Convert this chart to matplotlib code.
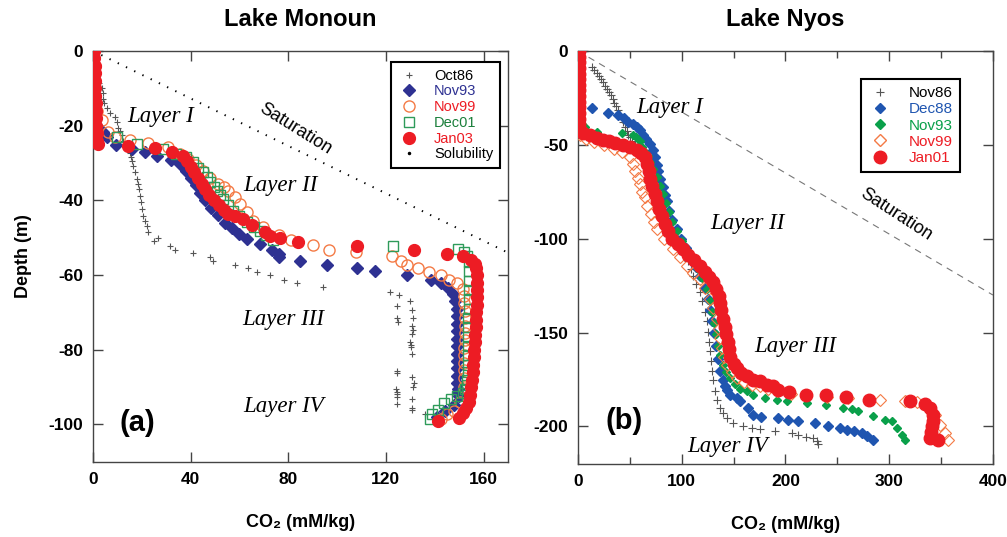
import numpy as np
import matplotlib
matplotlib.use("Agg")
import matplotlib.pyplot as plt
from matplotlib.lines import Line2D

plt.rcParams['font.family'] = ['Liberation Sans', 'DejaVu Sans']
plt.rcParams['axes.unicode_minus'] = False
NARROW = ['Liberation Sans Narrow', 'Liberation Sans', 'DejaVu Sans']

# ---------------- Lake Monoun (a) ----------------
oct86_co2 = [0.5, 0.8, 1.5, 2.5, 3.7, 3.9, 4.1, 4.5, 5.7, 7.0, 9.0, 9.8, 10.3, 11.2, 11.9, 12.3, 13.0, 14.0,
             15.2, 15.5, 16.0, 16.4, 17.0, 18.0, 18.5, 19.0, 19.3, 19.8, 20.2, 20.5, 21.2, 22.0, 22.6, 24.8,
             26.7, 31.6, 33.6, 41.0, 48.0, 49.2, 58.3, 63.6, 67.3, 72.6, 78.4, 83.7, 94.4,
             121.8, 125.5, 130.0, 124.5, 130.8, 131.0, 124.7, 124.9, 130.5, 131.0, 130.5, 130.0, 130.2, 130.3,
             130.5, 124.5, 124.6, 130.7, 131.4, 131.0, 124.3, 124.5, 124.4, 124.5, 130.5, 124.6, 130.6, 130.8, 136.0]
oct86_depth = [0, -3, -6, -8.5, -9.8, -11.2, -12.8, -14, -15.2, -16.5, -17.8, -19.1, -20.5, -21.5, -22.5, -24.2, -25, -25.8,
               -27.4, -28.5, -29.5, -30.9, -32.5, -34.3, -35.5, -37, -38.8, -40.5, -42.3, -44.1, -45.5, -46.8, -48.4, -50.8,
               -50.2, -52.1, -53.3, -54.2, -55.1, -56.3, -57.2, -58, -59.1, -60.1, -61.4, -62.2, -63.3,
               -64.4, -65.4, -67, -68.4, -69.3, -71.5, -71.6, -72.6, -73.5, -74.8, -75.8, -77.9, -78.7, -79.3,
               -81.1, -85.6, -86.2, -87.2, -88.8, -89.9, -90.4, -91.2, -91.8, -92.6, -93.3, -94.4, -95.5, -96.2, -97.3]

nov93_co2 = [0.5, 0.5, 0.8, 1.0, 1.5, 4.0, 5.7, 9.6, 16.0, 21.3, 26.2, 31.8, 35.7, 38.0, 40.0, 42.0, 44.0, 46.0,
             48.5, 51.0, 54.0, 57.0, 60.0, 63.0, 68.5, 73.4, 76.3, 76.3, 85.0, 96.0, 108.0, 115.7, 128.8, 138.5,
             142.6, 145.5, 147.5, 148.5, 149.0, 149.2, 149.3, 149.3, 149.3, 149.3, 149.3, 149.3, 149.3, 149.3,
             149.3, 149.4, 149.5, 150.0, 147.7, 144.4, 141.0]
nov93_depth = [0, -5, -10, -15, -20, -21.8, -23, -25.2, -26.3, -27.1, -28.2, -29.1, -30.2, -32, -34, -36, -38, -40,
               -42, -44, -46, -47.5, -49, -50.3, -51.6, -53.2, -54.3, -55.2, -56.2, -57.2, -58, -59, -60.1, -61.4,
               -62.2, -63.5, -65, -67, -69, -71, -73, -75, -77, -79, -81, -83, -85, -87,
               -89, -90.5, -91.5, -92.5, -94.7, -96.3, -98]

nov99a_co2 = [0.5, 0.6, 0.8, 1.0, 1.5, 3.7, 6.0, 9.0, 15.0, 22.6, 30.8, 35.7, 39.0, 42.0, 45.0, 48.0, 51.3, 53.5,
              55.4, 58.2, 60.3, 63.2, 65.6, 69.7, 76.0, 81.0, 90.2, 96.8, 107.8, 122.7, 126.0, 128.8, 133.0, 137.6,
              142.4, 145.8, 149.3, 151.4, 152.0, 152.2, 152.3, 152.3, 152.3, 152.3, 152.3, 152.2, 152.2, 152.1,
              152.0, 152.0, 151.8, 150.5, 147.7, 145.0, 142.4]
nov99a_depth = [0, -4, -8, -12, -16, -18.4, -21.8, -23, -23.9, -24.7, -25.8, -27.7, -29, -30.5, -32, -34, -35.6, -36.5,
                -37.5, -39, -41, -43, -45.5, -47, -49.2, -50.5, -52, -53.2, -53.9, -55, -56.2, -57.2, -58.1, -59.1,
                -60.1, -61.2, -62.1, -63.6, -65.5, -67.5, -69.5, -71.5, -73.5, -75.5, -77.5, -79.5, -81.5, -83.5,
                -85.5, -87.5, -90, -94, -96.3, -97.3, -98.6]

dec01_co2 = [0.0, 0.0, 0.2, 0.3, 0.4, 0.5, 0.5, 9.8, 18.0, 28.7, 34.0, 38.0, 41.0, 43.0, 45.0, 46.5, 48.0, 49.5,
             50.9, 52.0, 53.3, 55.3, 57.4, 60.0, 63.0, 65.8, 68.5, 71.0, 73.8, 123.0, 149.7, 151.8, 153.4, 154.0,
             154.0, 154.0, 154.0, 153.9, 153.9, 153.8, 153.8, 153.7, 153.7, 153.6, 153.5, 153.5, 153.4, 153.3,
             152.6, 151.4, 149.3, 146.5, 143.6, 141.5, 139.0, 138.0]
dec01_depth = [0, -2, -5, -10, -15, -20, -23, -23, -24.8, -26.3, -27.5, -28.5, -29.8, -31.2, -32.5, -33.8, -35.1, -36.3,
               -37.5, -38.5, -39.6, -41.2, -42.8, -44.3, -45.7, -47, -48.1, -49.3, -50.5, -52.2, -53.1, -53.8, -54.8, -56.5,
               -59, -61.5, -64, -66.5, -69, -71.5, -74, -76.5, -79, -81.5, -84, -86, -88, -89.5,
               -90.5, -91.5, -92.3, -93.3, -94.2, -96, -97.3, -98.6]

jan03_co2 = [0.5, 0.5, 0.6, 0.7, 0.8, 0.9, 1.0, 1.1, 1.2, 1.3, 1.4, 1.5, 1.6, 2.0, 14.4, 25.4, 32.4, 37.0,
             38.6, 40.0, 41.5, 43.0, 44.5, 46.0, 47.5, 49.5, 51.5, 53.5, 55.5, 58.0, 61.5, 65.0, 70.6, 72.6, 76.7,
             84.0, 108.0, 131.4, 145.0, 151.4, 155.0, 156.5, 157.0, 157.2, 157.3, 157.3, 157.3, 157.2, 157.0,
             157.0, 156.8, 156.6, 156.4, 156.2, 156.0, 155.8, 155.6, 155.3, 155.0, 154.6, 154.0, 152.8, 151.5,
             150.0, 141.5]
jan03_depth = [0, -2, -4, -6, -8, -10, -12, -14, -16, -18, -20, -22, -24, -25, -25.3, -26.1, -27.1, -28.1,
               -29.5, -31, -32.5, -34, -35.5, -37, -38.5, -40, -41.3, -42.5, -43.6, -44.2, -45, -46.5, -48.4, -49.4, -50,
               -51.2, -52.2, -53.2, -54.3, -55, -56, -57, -58, -60, -62, -64, -66, -68, -70,
               -72, -74, -76, -78, -80, -82, -84, -86, -88, -90, -92, -94, -95.5, -97,
               -98.3, -99.2]

sat_a_co2 = [0, 170]
sat_a_depth = [0, -54]

# ---------------- Lake Nyos (b) ----------------
nov86_co2 = [13.5, 15.5, 18.3, 20, 22, 24, 26, 28, 30, 32, 33.5, 35, 36.5, 38.5, 40.5, 42, 43.5, 45.3, 47, 48.5,
             50, 52, 54.5, 57, 60, 63, 66, 69, 72, 75, 78, 81, 84, 87, 90, 93, 96, 99, 102, 106, 109, 111, 114,
             117.6, 120, 122.4, 124, 125.3, 126.3, 127.2, 128, 129, 130, 132, 134, 136.9, 140, 143.6, 149.4, 159,
             167.7, 175.4, 190, 206, 212, 219.8, 226.5, 230.4, 231.3]
nov86_depth = [-8.5, -10, -11.5, -13.5, -15, -16.5, -18.5, -20, -21.7, -23.5, -25.5, -27.5, -29.5, -31.5, -34, -36,
               -38, -40.3, -42.5, -44.5, -46, -48, -49.7, -51.4, -54, -57, -60.5, -64, -68, -72, -76, -80, -84, -88,
               -92, -96, -100, -104, -108, -112, -116, -120, -124, -128.3, -133, -139, -144, -149.5, -155, -160,
               -165, -170.7, -175, -181.3, -186, -190.3, -193, -195.6, -198.3, -199.9, -201, -201.4, -202.5,
               -203.6, -204.7, -205.7, -206.3, -207.8, -209.4]

dec88_co2 = [0.5, 0.5, 0.5, 0.5, 0.5, 0.5, 13.5, 29, 38.6, 44, 48.2, 53, 57, 60, 62.7, 66, 69.4, 72, 74.2, 75.8,
             77, 79.5, 82, 84, 85.8, 88, 91, 95, 99, 104, 109, 114, 118, 122, 125, 127.5, 129.5, 131, 133, 134.5,
             137, 139.8, 141.5, 143.6, 146.5, 153, 156, 163.9, 168.7, 176.4, 192.8, 202.4, 212, 228.4, 241,
             252.5, 259.3, 266, 273.7, 278.6, 284.3]
dec88_depth = [0, -5, -10, -15, -20, -25, -30.2, -33, -34, -35.5, -37.6, -39, -40.3, -42.3, -44.5, -47, -49.8,
               -53, -56.7, -60.5, -64, -68.3, -72.6, -76.5, -80, -85, -90, -95, -100, -105, -110, -115, -120,
               -126, -132, -138, -144, -150, -157, -164, -170.7, -175.5, -178.7, -180.5, -183.5, -185, -186.6,
               -190.3, -194, -195.1, -195.6, -196.7, -197.2, -198.3, -199.9, -201, -202, -202.5, -203.6,
               -205.2, -207.3]

nov93_co2_b = [0.5, 0.5, 0.5, 0.5, 6.7, 18.3, 42.4, 53, 56, 59.8, 62, 64.6, 67, 69.4, 72.5, 76, 79, 82, 85, 88,
               91, 95, 100, 105, 111, 116, 120, 124, 127, 129.5, 131.5, 133, 134.5, 136.5, 139.8, 143, 146.5,
               151, 156, 163, 168.7, 180, 191.8, 201.4, 220.7, 239, 255.4, 264, 270, 284.3, 296, 302.6, 307.5,
               312.3, 315]
nov93_depth_b = [0, -10, -20, -30, -40.3, -43, -43.5, -44.5, -46, -48.2, -51, -53.6, -56, -58.9, -63, -67.3, -72,
                 -76.4, -81, -86, -91, -96, -101, -106, -111, -116, -121, -127, -133, -139, -145, -151, -157,
                 -162, -167.5, -171, -174.4, -177.5, -180, -181.3, -183.5, -185, -186, -186.6, -187.7, -188.8,
                 -190.3, -190.9, -192, -194.6, -196.7, -197.2, -201, -204.7, -207.3]

nov99_co2_b = [0.5, 0.5, 0.5, 0.5, 2, 8, 15, 25, 35, 42, 50, 53, 55, 57.5, 59.8, 62, 64.6, 66.5, 70, 73, 76, 83,
               91.6, 98, 105, 111, 117.6, 122, 127, 130.5, 134, 135.5, 137, 139, 141, 143.6, 148, 153, 160, 168,
               175.4, 183, 191.8, 205, 220, 240, 260, 291, 315, 326.7, 339.3, 344, 349, 353.7, 356.6]
nov99_depth_b = [0, -10, -20, -30, -45, -47, -48.5, -50, -52, -54, -56.7, -60, -64, -67.5, -71, -75, -78, -82.7,
                 -87, -91, -95, -100, -105.5, -110, -114.5, -118, -121.4, -126, -132, -137, -142.6, -148, -153,
                 -158, -163, -167.5, -171, -174.4, -176.5, -177.8, -178.7, -180, -181.3, -182.5, -183.5, -184.5,
                 -185, -186, -186.6, -187.2, -190.3, -194, -199.4, -203.6, -207.3]

jan01_co2 = [0.5, 0.5, 0.5, 0.5, 0.5, 0.5, 0.5, 0.5, 0.5, 0.5, 0.5, 0.6, 0.7, 0.8, 1.5, 5, 12, 18, 24, 30, 36, 43,
             50, 57, 61, 64.6, 66.8, 68.5, 69.5, 71, 74, 76, 78, 81, 83.5, 86.5, 91, 96, 101, 106, 112, 117.6,
             122, 126.5, 130, 133, 135.5, 137, 138, 139.8, 141.5, 143, 144.5, 145.5, 147, 150, 153, 157.5, 163,
             169, 175.4, 182, 188, 192.8, 203, 219.8, 239.5, 258.3, 281, 320, 334.5, 339.3, 342, 342, 341, 340,
             339.3, 347]
jan01_depth = [0, -3, -6, -9, -12, -15, -18, -21, -24, -27, -30, -33, -36, -39, -42, -43.5, -45, -46.2, -47.2,
               -48, -49, -50, -51, -52.5, -54.2, -56.7, -60, -64, -68, -72, -76, -80, -84, -88, -92, -96, -100,
               -103, -105.5, -108.5, -111.5, -114.5, -117.5, -120.5, -123, -127, -130.5, -134, -138, -142.6,
               -147, -151, -155, -159, -163, -166.5, -169, -171.5, -173.4, -175, -176, -177.7, -178.7, -180.8,
               -181.5, -183, -183.5, -184.5, -186, -186.7, -188.2, -190.3, -194, -197.2, -200, -203, -206.3,
               -207.3]

sat_b_co2 = [0, 400]
sat_b_depth = [0, -130]

RED = '#ED1C24'
ORANGE = '#F47A45'
NAVY = '#2E3192'
GREEN_A = '#2E9B5A'
BLUE_B = '#1F55B0'
GREEN_B = '#0AA04A'
GREY = '#555555'

fig = plt.figure(figsize=(10.07, 5.37), dpi=100)
ax1 = fig.add_axes([0.0924, 0.140, 0.412, 0.765])
ax2 = fig.add_axes([0.574, 0.136, 0.412, 0.769])

# panel a
ax1.plot(sat_a_co2, sat_a_depth, color='black', lw=1.4, ls=(0, (0.7, 4.0)), zorder=1)
ax1.plot(oct86_co2, oct86_depth, '+', color=GREY, ms=5, mew=0.8, ls='none', zorder=2)
ax1.plot(nov93_co2, nov93_depth, 'D', color=NAVY, ms=6, mec=NAVY, ls='none', zorder=3)
ax1.plot(nov99a_co2, nov99a_depth, 'o', mfc='none', mec=ORANGE, ms=8, mew=1.0, ls='none', zorder=4)
ax1.plot(dec01_co2, dec01_depth, 's', mfc='none', mec=GREEN_A, ms=7, mew=1.0, ls='none', zorder=5)
ax1.plot(jan03_co2, jan03_depth, 'o', color=RED, ms=8.5, ls='none', zorder=6)

ax1.set_xlim(0, 170)
ax1.set_ylim(-110, 0)
ax1.set_xticks([0, 40, 80, 120, 160])
ax1.set_yticks([0, -20, -40, -60, -80, -100])

handles_a = [
    Line2D([], [], marker='+', color=GREY, ls='none', ms=5, mew=0.8),
    Line2D([], [], marker='D', color=NAVY, ls='none', ms=6),
    Line2D([], [], marker='o', mfc='none', mec=ORANGE, ls='none', ms=8),
    Line2D([], [], marker='s', mfc='none', mec=GREEN_A, ls='none', ms=7),
    Line2D([], [], marker='o', color=RED, ls='none', ms=8.5),
    Line2D([], [], marker='.', color='black', ls='none', ms=3),
]
leg_a = ax1.legend(handles_a, ['Oct86', 'Nov93', 'Nov99', 'Dec01', 'Jan03', 'Solubility'],
                   loc='upper right', bbox_to_anchor=(0.981, 0.973), borderaxespad=0, fontsize=10.5,
                   fancybox=False, edgecolor='black', framealpha=1, labelspacing=0.12, handletextpad=0.9,
                   borderpad=0.45, handlelength=1.6)
leg_a.get_frame().set_linewidth(1.5)
for t, c in zip(leg_a.get_texts(), ['black', NAVY, RED, '#1B7F3B', RED, 'black']):
    t.set_color(c)

layer_font = dict(family=['Liberation Serif', 'DejaVu Serif'], style='italic', fontsize=16.5)
ax1.text(27.5, -17.6, 'Layer I', ha='center', va='center', **layer_font)
ax1.text(76.7, -35.9, 'Layer II', ha='center', va='center', **layer_font)
ax1.text(78, -72, 'Layer III', ha='center', va='center', **layer_font)
ax1.text(78, -95.2, 'Layer IV', ha='center', va='center', **layer_font)
ax1.text(83, -21, 'Saturation', rotation=-32, ha='center', va='center', fontsize=13)
ax1.text(18, -99.5, '(a)', ha='center', va='center', fontsize=21, fontweight='bold')

ax1.set_title('Lake Monoun', fontsize=17, fontweight='bold', pad=18)
ax1.set_ylabel('Depth (m)', fontsize=13, fontweight='bold', family=NARROW, labelpad=12)
ax1.set_xlabel('CO₂ (mM/kg)', fontsize=13, fontweight='bold', family=NARROW, labelpad=20)

# panel b
ax2.plot(sat_b_co2, sat_b_depth, color='#777777', lw=0.8, ls=(0, (6, 5)), zorder=1)
ax2.plot(nov86_co2, nov86_depth, '+', color=GREY, ms=5.5, mew=0.8, ls='none', zorder=2)
ax2.plot(dec88_co2, dec88_depth, 'D', color=BLUE_B, ms=5, ls='none', zorder=3)
ax2.plot(nov93_co2_b, nov93_depth_b, 'D', color=GREEN_B, ms=4.5, ls='none', zorder=4)
ax2.plot(nov99_co2_b, nov99_depth_b, 'D', mfc='none', mec=ORANGE, ms=6, mew=0.8, ls='none', zorder=5)
ax2.plot(jan01_co2, jan01_depth, 'o', color=RED, ms=9, ls='none', zorder=6)

ax2.set_xlim(0, 400)
ax2.set_ylim(-220, 0)
ax2.set_xticks([0, 100, 200, 300, 400])
ax2.set_xticks([50, 150, 250, 350], minor=True)
ax2.set_yticks([0, -50, -100, -150, -200])

handles_b = [
    Line2D([], [], marker='+', color=GREY, ls='none', ms=6, mew=0.8),
    Line2D([], [], marker='D', color=BLUE_B, ls='none', ms=5),
    Line2D([], [], marker='D', color=GREEN_B, ls='none', ms=5),
    Line2D([], [], marker='D', mfc='none', mec=ORANGE, ls='none', ms=6),
    Line2D([], [], marker='o', color=RED, ls='none', ms=9),
]
leg_b = ax2.legend(handles_b, ['Nov86', 'Dec88', 'Nov93', 'Nov99', 'Jan01'],
                   loc='upper right', bbox_to_anchor=(0.920, 0.932), borderaxespad=0, fontsize=11,
                   fancybox=False, edgecolor='black', framealpha=1, labelspacing=0.15, handletextpad=1.0,
                   borderpad=0.45, handlelength=1.7)
leg_b.get_frame().set_linewidth(1.5)
for t, c in zip(leg_b.get_texts(), ['black', BLUE_B, GREEN_B, RED, RED]):
    t.set_color(c)

ax2.text(88.7, -30, 'Layer I', ha='center', va='center', **layer_font)
ax2.text(163, -92, 'Layer II', ha='center', va='center', **layer_font)
ax2.text(209, -157.5, 'Layer III', ha='center', va='center', **layer_font)
ax2.text(144.6, -210.5, 'Layer IV', ha='center', va='center', **layer_font)
ax2.text(307, -87, 'Saturation', rotation=-33, ha='center', va='center', fontsize=13)
ax2.text(44, -197, '(b)', ha='center', va='center', fontsize=21, fontweight='bold')

ax2.set_title('Lake Nyos', fontsize=17, fontweight='bold', pad=18)
ax2.set_xlabel('CO₂ (mM/kg)', fontsize=13, fontweight='bold', family=NARROW, labelpad=20)

for ax in (ax1, ax2):
    ax.tick_params(which='both', direction='in', top=True, right=True, width=1, color='#444444')
    ax.tick_params(which='major', length=7, labelsize=12.5, pad=7)
    ax.tick_params(which='minor', length=5)
    for lab in ax.get_xticklabels() + ax.get_yticklabels():
        lab.set_fontweight('bold')
        lab.set_family(NARROW)
    for sp in ax.spines.values():
        sp.set_color('#444444')
        sp.set_linewidth(1)

fig.savefig('out.png', dpi=100)
